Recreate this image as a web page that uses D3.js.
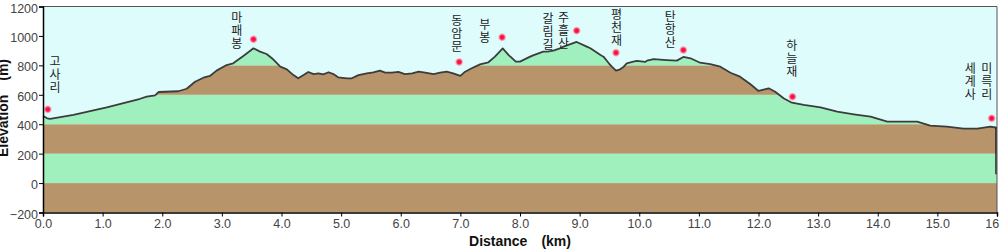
<!DOCTYPE html>
<html><head><meta charset="utf-8">
<script src="https://cdn.jsdelivr.net/npm/d3@7"></script>
<style>html,body{margin:0;padding:0;background:#fff;overflow:hidden}svg{display:block}
.vlab{writing-mode:vertical-rl;text-orientation:upright;}</style>
</head><body><svg id="c" width="1000" height="252"></svg>
<script>
// ---- data ----
const distKm = [0.00,0.07,0.12,0.51,1.07,1.63,1.74,1.88,1.94,2.27,2.41,2.55,2.69,2.80,2.91,3.08,3.19,3.36,3.53,3.64,3.75,3.86,3.98,4.09,4.20,4.28,4.37,4.45,4.54,4.62,4.70,4.79,4.87,4.95,5.10,5.18,5.29,5.43,5.54,5.65,5.74,5.85,5.96,6.07,6.19,6.30,6.41,6.55,6.66,6.77,6.88,7.00,7.08,7.19,7.33,7.47,7.58,7.71,7.81,7.93,8.00,8.17,8.23,8.39,8.46,8.56,8.67,8.73,8.95,9.12,9.18,9.35,9.40,9.49,9.54,9.61,9.68,9.74,9.79,9.90,9.96,10.10,10.13,10.24,10.46,10.63,10.74,10.86,11.02,11.19,11.36,11.53,11.69,11.86,12.00,12.17,12.28,12.42,12.56,12.76,13.04,13.32,13.60,13.88,14.16,14.43,14.66,14.88,15.16,15.44,15.67,15.89,16.00];
const elevM = [456,440,437,463,515,573,587,596,619,624,641,689,716,728,764,802,814,864,916,893,877,841,791,773,734,712,734,755,741,746,739,753,741,719,712,712,734,746,753,764,750,750,755,741,746,757,750,741,750,757,746,728,757,780,807,821,859,915,870,825,825,859,870,893,893,900,916,927,959,927,916,870,859,814,791,764,773,791,814,825,830,823,832,843,836,832,857,848,818,809,791,750,723,673,626,644,621,576,546,531,515,485,467,451,417,417,417,390,383,370,370,383,376];

const wpNames = ["고사리","마패봉","동암문","부봉","주흘산","평천재","탄항산","하늘재","미륵리"];
const wpKm    = [0.08,3.53,6.98,7.70,8.95,9.61,10.74,12.57,15.91];
const wpElev  = [501,977,823,991,1036,886,904,587,440];

const labelNames = ["고사리","마패봉","동암문","부봉","갈림길","주흘산","평천재","탄항산","하늘재","세계사","미륵리"];
const labelKm    = [0.20,3.25,6.94,7.41,8.47,8.73,9.62,10.52,12.56,15.55,15.83];
const labelElev  = [823,1125,1101,1074,1115,1122,1142,1129,932,775,775];

const xTicks = d3.range(0,17,1);
const yTicks = [-200,0,200,400,600,800,1000,1200];
const bandColors = ["#b8946a","#a0f0be"];

// ---- chart ----
const svg = d3.select("#c");
const x = d3.scaleLinear().domain([0,16]).range([43,997]);
const y = d3.scaleLinear().domain([-200,1200]).range([212.5,6.5]);
const profile = distKm.map((k,i)=>({km:k,m:elevM[i]}));

const defs = svg.append("defs");
const rg = defs.append("radialGradient").attr("id","dotg");
rg.append("stop").attr("offset","0%").attr("stop-color","#ff0038");
rg.append("stop").attr("offset","45%").attr("stop-color","#ff2050");
rg.append("stop").attr("offset","100%").attr("stop-color","#ff90a8").attr("stop-opacity",0);

const area = d3.area().x(d=>x(d.km)).y0(y(-200)).y1(d=>y(d.m));
defs.append("clipPath").attr("id","under").append("path").attr("d",area(profile));

// sky
svg.append("rect").attr("x",x(0)).attr("y",y(1200)).attr("width",x(16)-x(0)).attr("height",y(-200)-y(1200)).attr("fill","#dffcfd");

// elevation bands under the profile
const bands = d3.range(-200,1200,200);
svg.append("g").attr("clip-path","url(#under)").selectAll("rect").data(bands).join("rect")
  .attr("x",x(0)).attr("width",x(16)-x(0))
  .attr("y",d=>y(d+200)).attr("height",d=>y(d)-y(d+200))
  .attr("fill",(d,i)=>bandColors[i%2]);

// profile line
svg.append("path").datum(profile)
  .attr("d",d3.line().x(d=>x(d.km)).y(d=>y(d.m)))
  .attr("fill","none").attr("stroke","#3c3c3c").attr("stroke-width",1.8).attr("stroke-linejoin","round");

// right-end drop line
svg.append("line").attr("x1",x(16)-1).attr("x2",x(16)-1).attr("y1",y(elevM[elevM.length-1])).attr("y2",y(60))
  .attr("stroke","#222").attr("stroke-width",1.5);

// frame top/right
svg.append("path").attr("d",`M${x(0)},${y(1200)}H${x(16)}V${y(-200)}`).attr("fill","none").attr("stroke","#555").attr("stroke-width",1);

// waypoint dots
svg.append("g").selectAll("circle").data(wpKm).join("circle")
  .attr("cx",d=>x(d)).attr("cy",(d,i)=>y(wpElev[i])).attr("r",4.5).attr("fill","url(#dotg)");

// vertical labels
svg.append("g").selectAll("text").data(labelNames).join("text")
  .attr("class","vlab")
  .attr("x",(d,i)=>x(labelKm[i])).attr("y",(d,i)=>y(labelElev[i])-6.5)
  .attr("font-family","'Noto Sans CJK KR',sans-serif").attr("font-size",12).attr("fill","#222")
  .attr("letter-spacing",1)
  .text(d=>d);

// axes
const fmtX = d3.format(".1f");
const xAxis = svg.append("g").attr("transform",`translate(0,${y(-200)})`)
  .call(d3.axisBottom(x).tickValues(xTicks).tickFormat(fmtX).tickSize(4).tickPadding(3));
const yAxis = svg.append("g").attr("transform",`translate(${x(0)},0)`)
  .call(d3.axisLeft(y).tickValues(yTicks).tickFormat(d3.format("d")).tickSize(4).tickPadding(1));
[xAxis,yAxis].forEach(a=>{
  a.select(".domain").attr("stroke","#000").attr("stroke-width",1.5);
  a.selectAll(".tick line").attr("stroke","#000");
  a.selectAll(".tick text").attr("font-family","'Liberation Sans',Arial,sans-serif").attr("font-size",12.5).attr("fill","#444");
});
yAxis.selectAll(".tick text").attr("dy","0.45em");

// axis titles
svg.append("text").attr("x",(x(0)+x(16))/2).attr("y",246).attr("text-anchor","middle")
  .attr("font-family","'Liberation Sans',Arial,sans-serif").attr("font-size",14).attr("font-weight","bold").attr("fill","#111")
  .text("Distance\u3000(km)");
svg.append("text").attr("transform",`translate(8,108) rotate(-90)`).attr("text-anchor","middle")
  .attr("font-family","'Liberation Sans',Arial,sans-serif").attr("font-size",14).attr("font-weight","bold").attr("fill","#111")
  .text("Elevation\u3000(m)");
</script></body></html>
